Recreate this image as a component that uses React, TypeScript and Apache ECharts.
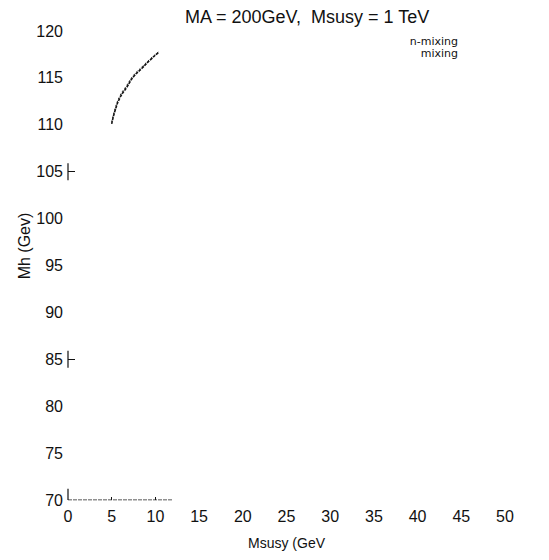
import React, { useEffect, useRef } from "react";
import * as echarts from "echarts";

const titleText = "MA = 200GeV,  Msusy = 1 TeV";
const xName = "Msusy (GeV";
const yName = "Mh (Gev)";
const seriesNames = ["n-mixing", "mixing"];

// Msusy values and Mh values
const msusy = [5.0, 5.38, 5.95, 6.72, 7.47, 8.43, 9.38, 10.33];
const mhNoMixing = [110.1, 111.5, 112.9, 114.0, 115.1, 116.0, 116.9, 117.7];
const mhMixing = [110.3, 111.7, 113.1, 114.2, 115.25, 116.15, 117.0, 117.75];

// short baseline drawn along Mh = 70
const baselineX = [0, 12];
const baselineY = [70, 70];

// short stubs of the vertical axis (x = 0)
const stubRanges = [
  [104.1, 105.9],
  [84.1, 85.9],
  [70, 71.2],
];

const xMin = 0, xMax = 50, xStep = 5;
const yMin = 70, yMax = 120, yStep = 5;
const yTickValues = [85, 105];
const xTickValues = [5, 10];

export default function App() {
  const ref = useRef<HTMLDivElement>(null);
  useEffect(() => {
    if (!ref.current) return;
    document.body.style.margin = "0";
    const chart = echarts.init(ref.current, undefined, { renderer: "svg" });
    const font = "'Liberation Sans', Arial, Helvetica, sans-serif";
    const legendFont = "'DejaVu Sans', sans-serif";
    const stubData: any[] = [];
    stubRanges.forEach((r, i) => {
      if (i > 0) stubData.push([null, null]);
      stubData.push([0, r[0]], [0, r[1]]);
    });
    const legendBase = {
      right: 86,
      padding: 0,
      icon: "none",
      itemWidth: 0,
      itemHeight: 8,
      align: "right",
      selectedMode: false,
      textStyle: { fontFamily: legendFont, fontSize: 11, lineHeight: 11, color: "#111" },
    };
    chart.setOption({
      animation: false,
      backgroundColor: "#ffffff",
      textStyle: { fontFamily: font, color: "#111" },
      title: {
        text: titleText,
        left: 180,
        top: 3,
        textStyle: { fontFamily: font, fontSize: 18, fontWeight: "normal", color: "#111" },
      },
      legend: [
        { ...legendBase, data: [seriesNames[0]], top: 36 },
        { ...legendBase, data: [seriesNames[1]], top: 48 },
      ],
      grid: { left: 68, right: 44, top: 31, bottom: 60, containLabel: false },
      xAxis: {
        type: "value",
        min: xMin,
        max: xMax,
        interval: xStep,
        name: xName,
        nameLocation: "middle",
        nameGap: 36,
        nameMoveOverlap: false,
        nameTextStyle: { fontFamily: font, fontSize: 14, color: "#111" },
        axisLine: { show: false },
        axisTick: {
          show: true,
          inside: true,
          length: 3,
          customValues: xTickValues,
          lineStyle: { color: "#111", width: 1 },
        },
        axisLabel: { fontFamily: font, fontSize: 16, color: "#111", margin: 8 },
        splitLine: { show: false },
      },
      yAxis: {
        type: "value",
        min: yMin,
        max: yMax,
        interval: yStep,
        name: yName,
        nameLocation: "middle",
        nameGap: 36,
        nameMoveOverlap: false,
        nameTextStyle: { fontFamily: font, fontSize: 16, color: "#111", padding: [0, 0, 0, 39] },
        axisLine: { show: false },
        axisTick: {
          show: true,
          inside: true,
          length: 7,
          customValues: yTickValues,
          lineStyle: { color: "#111", width: 1 },
        },
        axisLabel: { fontFamily: font, fontSize: 16, color: "#111", margin: 5 },
        splitLine: { show: false },
      },
      series: [
        {
          name: seriesNames[0],
          type: "line",
          data: msusy.map((x, i) => [x, mhNoMixing[i]]),
          symbol: "none",
          smooth: true,
          lineStyle: { color: "#111", width: 1.6, type: [3, 1] },
        },
        {
          name: seriesNames[1],
          type: "line",
          data: msusy.map((x, i) => [x, mhMixing[i]]),
          symbol: "none",
          smooth: true,
          lineStyle: { color: "#222", width: 1, type: [2, 2] },
        },
        {
          type: "line",
          data: baselineX.map((x, i) => [x, baselineY[i]]),
          symbol: "none",
          silent: true,
          lineStyle: { color: "#222", width: 1.2, type: [4, 1] },
        },
        {
          type: "line",
          data: stubData,
          symbol: "none",
          silent: true,
          connectNulls: false,
          lineStyle: { color: "#111", width: 1.2 },
        },
      ],
    });
    return () => chart.dispose();
  }, []);
  return <div ref={ref} style={{ width: 549, height: 560 }} />;
}
